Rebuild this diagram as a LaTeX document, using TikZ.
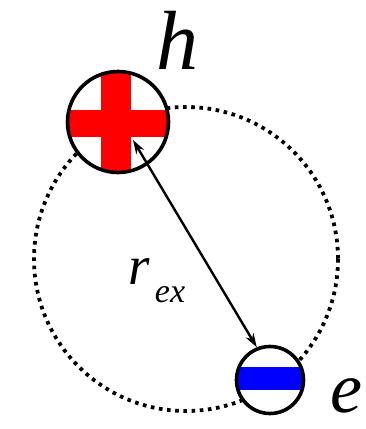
\documentclass[tikz,border=0pt]{standalone}
\usepackage{fontspec}
\setmainfont{Liberation Serif}
\usetikzlibrary{calc,arrows.meta}
\tikzset{
  particle/.style={circle, draw=black, line width=3.6pt, fill=white, inner sep=0pt},
  orbit/.style={draw=black, line width=3.8pt, dash pattern=on 3.6pt off 4.6pt},
  lbl/.style={inner sep=0pt, font=\itshape},
  sep/.style={line width=2.4pt, {Stealth[length=14pt,width=9pt]}-{Stealth[length=14pt,width=9pt]}}
}
\begin{document}
\begin{tikzpicture}[x=1pt,y=-1pt]
\useasboundingbox (0,0) rectangle (366,429);
\draw[orbit] (186,259) circle[radius=152];
\node[particle, minimum size=101pt, path picture={
  \fill[red] ($(path picture bounding box.center)+(-17,-60)$) rectangle ($(path picture bounding box.center)+(13,60)$);
  \fill[red] ($(path picture bounding box.center)+(-60,-12)$) rectangle ($(path picture bounding box.center)+(60,15)$);
}] (h) at (118,122) {};
\node[particle, minimum size=67pt, path picture={
  \fill[blue] ($(path picture bounding box.center)+(-40,-13)$) rectangle ($(path picture bounding box.center)+(40,10)$);
}] (e) at (270,380) {};
\coordinate (a1) at (133,140);
\draw[sep] (a1) -- (e.112);
\node[lbl, font=\fontsize{84}{84}\selectfont\itshape] (hl) at (177,40) {h};
\node[lbl, font=\fontsize{72}{72}\selectfont\itshape] (el) at (346,396) {e};
\node[lbl, font=\fontsize{55}{55}\selectfont\itshape] (rl) at (139,272) {r};
\node[lbl, font=\fontsize{34}{34}\selectfont\itshape] (exl) at (170,295) {ex};
\end{tikzpicture}
\end{document}
